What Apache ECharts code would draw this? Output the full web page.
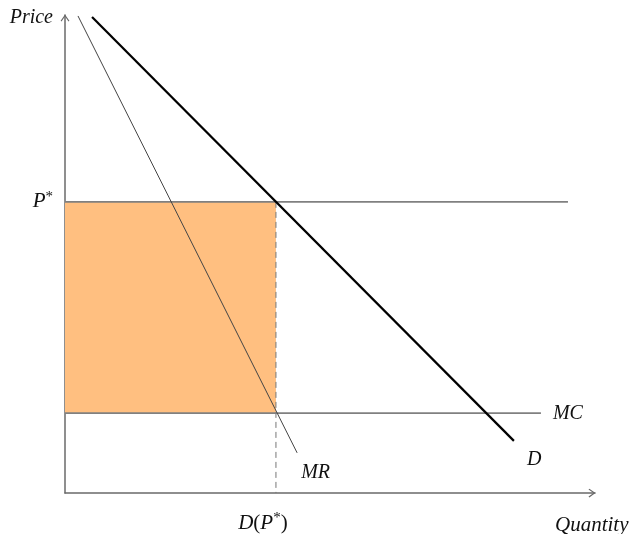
<!DOCTYPE html>
<html><head><meta charset="utf-8">
<script src="https://cdn.jsdelivr.net/npm/echarts@6/dist/echarts.min.js"></script>
<style>html,body{margin:0;padding:0;background:#fff}#c{width:637px;height:534px}</style>
</head><body><div id="c"></div>
<script>
// ---- data (axis units: quantity 0..10, price 0..10) ----
const qStar = 3.98;          // D(P*)
const pStar = 6.09;          // P*
const mcLevel = 1.67;        // MC
const demandPts = [[0.51, 9.96], [8.47, 1.09]];
const mrPts = [[0.245, 9.98], [4.38, 0.84]];
const pStarLineEnd = 9.49;
const mcLineEnd = 8.98;
const axisNames = ['Quantity', 'Price'];

const FONT = 'Liberation Serif';
const chevron = 'path://M5,0 L10,7 L9,8 L5,2.3 L1,8 L0,7 Z';
const rich = {
  i: {fontFamily: FONT, fontStyle: 'italic', fontSize: 21, color: '#111', lineHeight: 24},
  u: {fontFamily: FONT, fontSize: 21, color: '#111', lineHeight: 24},
  s: {fontFamily: FONT, fontSize: 15, color: '#111', lineHeight: 24, verticalAlign: 'top'}
};
const italic = {fontFamily: FONT, fontStyle: 'italic', fontSize: 20, color: '#111'};

const chart = echarts.init(document.getElementById('c'), null, {renderer: 'canvas'});
chart.setOption({
  animation: false,
  grid: {left: 65, right: 42, top: 15, bottom: 41, containLabel: false, outerBoundsMode: 'none'},
  xAxis: {
    type: 'value', min: 0, max: 10,
    name: axisNames[0], nameLocation: 'end', nameGap: -40,
    nameTextStyle: Object.assign({}, italic, {fontSize: 21, align: 'left', verticalAlign: 'top', padding: [22, 0, 0, 0]}),
    axisLine: {show: true, lineStyle: {color: '#6a6a6a', width: 1.5}, symbol: ['none', chevron], symbolSize: [9, 7], symbolOffset: [0, -3]},
    axisTick: {show: false},
    splitLine: {show: false},
    axisLabel: {
      show: true, customValues: [qStar], margin: 18,
      formatter: () => '{i|D}{u|(}{i|P}{s|*}{u|)}',
      rich: rich, padding: [0, 26, 0, 0]
    }
  },
  yAxis: {
    type: 'value', min: 0, max: 10,
    name: axisNames[1], nameLocation: 'end', nameGap: -3,
    nameTextStyle: Object.assign({}, italic, {align: 'right', verticalAlign: 'middle', padding: [0, 12, 0, 0]}),
    axisLine: {show: true, lineStyle: {color: '#6a6a6a', width: 1.5}, symbol: ['none', chevron], symbolSize: [9, 7], symbolOffset: [0, -3]},
    axisTick: {show: false},
    splitLine: {show: false},
    axisLabel: {
      show: true, customValues: [pStar], margin: 12,
      formatter: () => '{i|P}{s|*}',
      rich: rich
    }
  },
  series: [
    {
      type: 'line', name: 'rect', silent: true, symbol: 'none',
      data: [[0, pStar], [qStar, pStar]],
      lineStyle: {width: 0},
      markArea: {
        silent: true,
        itemStyle: {color: '#FFBF80'},
        data: [[{coord: [0, mcLevel]}, {coord: [qStar, pStar]}]]
      }
    },
    {
      type: 'line', name: 'dash', silent: true, symbol: 'none',
      data: [[qStar, pStar], [qStar, 0]],
      lineStyle: {color: '#777', width: 1, type: [6, 4]}
    },
    {
      type: 'line', name: 'P*', silent: true, symbol: 'none',
      data: [[0, pStar], [pStarLineEnd, pStar]],
      lineStyle: {color: '#808080', width: 1.6}
    },
    {
      type: 'line', name: 'MC', silent: true, symbol: 'none',
      data: [[0, mcLevel], [mcLineEnd, mcLevel]],
      lineStyle: {color: '#808080', width: 1.6},
      endLabel: {show: true, formatter: 'MC', distance: 8, offset: [4, 1], ...italic}
    },
    {
      type: 'line', name: 'MR', silent: true, symbol: 'none',
      data: mrPts,
      lineStyle: {color: '#444', width: 1},
      endLabel: {show: true, formatter: 'MR', distance: 8, offset: [-4, 20], ...italic}
    },
    {
      type: 'line', name: 'D', silent: true, symbol: 'none',
      data: demandPts,
      lineStyle: {color: '#000', width: 2.2},
      endLabel: {show: true, formatter: 'D', distance: 8, offset: [5, 19], ...italic}
    }
  ]
});
</script>
</body></html>
